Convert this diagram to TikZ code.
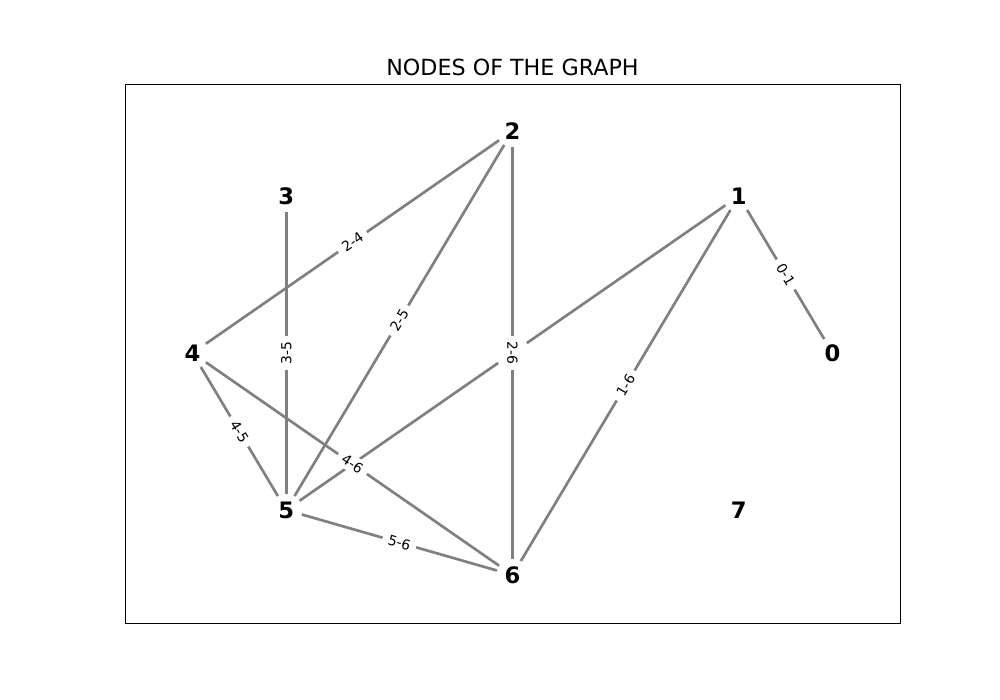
\documentclass[tikz,border=0pt]{standalone}
\usepackage{fontspec}
\setmainfont{DejaVu Sans}
\usetikzlibrary{calc}
\definecolor{edgegray}{RGB}{128,128,128}
\tikzset{
  gnode/.style={circle, minimum size=24pt, inner sep=0pt, font=\fontsize{17}{20}\selectfont\bfseries, text=black},
  gedge/.style={draw=edgegray, line width=2pt},
  elabel/.style={fill=white, inner xsep=4.5pt, inner ysep=2.5pt, font=\fontsize{10.4}{12}\selectfont, text=black},
  frame/.style={draw=black, line width=0.6pt}
}
\begin{document}
\begin{tikzpicture}[x=0.75pt, y=-0.75pt]
\useasboundingbox (0,0) rectangle (1000,700);
\draw[frame] (125,84) rectangle (900,623);
\node[anchor=base, font=\fontsize{16.67}{20}\selectfont] (title) at (512.5,75) {NODES OF THE GRAPH};
% nodes (circular layout)
\node[gnode] (n0) at (832.5,353) {0};
\node[gnode] (n1) at (738.8,196) {1};
\node[gnode] (n2) at (512.5,131) {2};
\node[gnode] (n3) at (286.2,196) {3};
\node[gnode] (n4) at (192.5,353) {4};
\node[gnode] (n5) at (286.2,510) {5};
\node[gnode] (n6) at (512.5,575) {6};
\node[gnode] (n7) at (738.8,510) {7};
% edges
\draw[gedge] (n0) -- (n1);
\draw[gedge] (n1) -- (n5);
\draw[gedge] (n1) -- (n6);
\draw[gedge] (n2) -- (n4);
\draw[gedge] (n2) -- (n5);
\draw[gedge] (n2) -- (n6);
\draw[gedge] (n3) -- (n5);
\draw[gedge] (n4) -- (n5);
\draw[gedge] (n4) -- (n6);
\draw[gedge] (n5) -- (n6);
% edge labels
\node[elabel, rotate=-59.2] (l01) at ($(n0)!0.5!(n1)$) {0-1};
\node[elabel, rotate=34.7] (l15) at ($(n1)!0.5!(n5)$) {\phantom{1-5}};
\node[elabel, rotate=59.2] (l16) at ($(n1)!0.5!(n6)$) {1-6};
\node[elabel, rotate=34.7] (l24) at ($(n2)!0.5!(n4)$) {2-4};
\node[elabel, rotate=59.2] (l25) at ($(n2)!0.5!(n5)$) {2-5};
\node[elabel, rotate=-90] (l26) at ($(n2)!0.5!(n6)$) {2-6};
\node[elabel, rotate=90] (l35) at ($(n3)!0.5!(n5)$) {3-5};
\node[elabel, rotate=-59.2] (l45) at ($(n4)!0.5!(n5)$) {4-5};
\node[elabel, rotate=-34.7] (l46) at ($(n4)!0.5!(n6)$) {4-6};
\node[elabel, rotate=-16.0] (l56) at ($(n5)!0.5!(n6)$) {5-6};
\end{tikzpicture}
\end{document}
